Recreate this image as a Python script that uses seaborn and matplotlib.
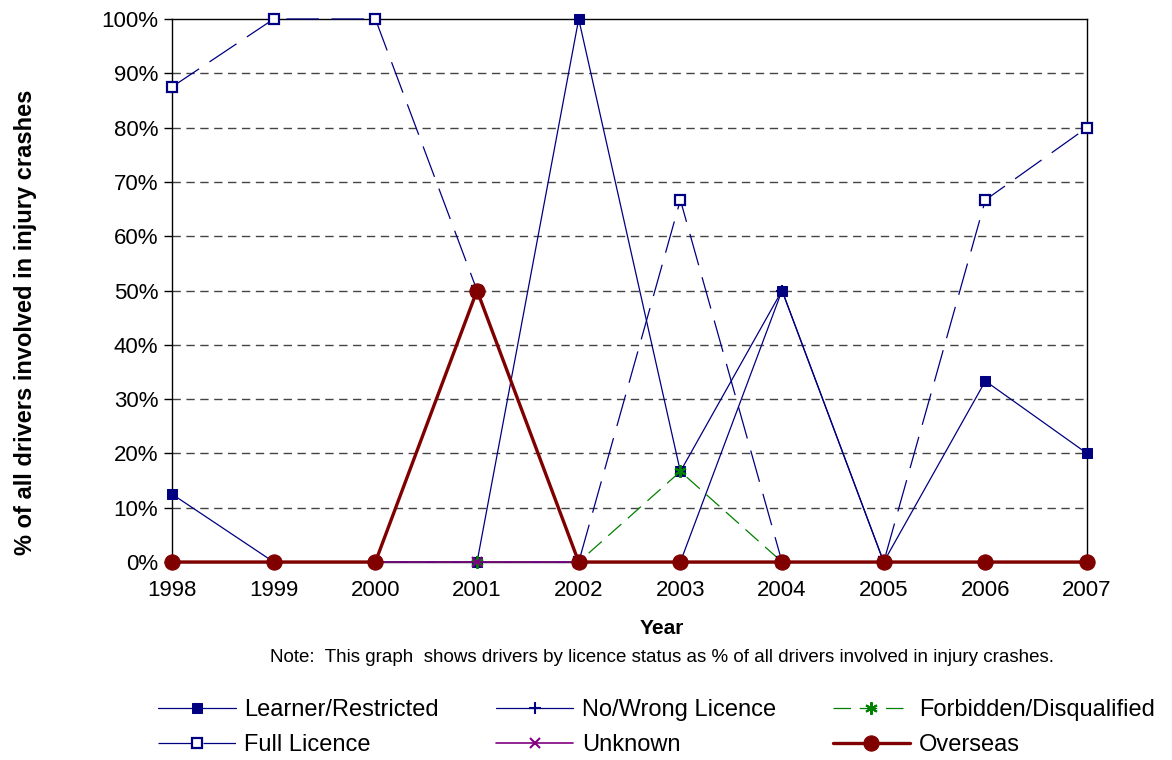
import matplotlib
matplotlib.use("Agg")
import matplotlib.pyplot as plt
import seaborn as sns
from matplotlib.ticker import PercentFormatter

# Data (share of drivers, 0-1)
years = [1998, 1999, 2000, 2001, 2002, 2003, 2004, 2005, 2006, 2007]
learner = [0.125, 0.0, 0.0, 0.0, 1.0, 0.1667, 0.5, 0.0, 0.3333, 0.20]
no_wrong = [0.0, 0.0, 0.0, 0.0, 0.0, 0.0, 0.5, 0.0, 0.0, 0.0]
forbidden = [0.0, 0.0, 0.0, 0.0, 0.0, 0.1667, 0.0, 0.0, 0.0, 0.0]
full_licence = [0.875, 1.0, 1.0, 0.5, 0.0, 0.6667, 0.0, 0.0, 0.6667, 0.80]
unknown = [0.0, 0.0, 0.0, 0.0, 0.0, 0.0, 0.0, 0.0, 0.0, 0.0]
overseas = [0.0, 0.0, 0.0, 0.5, 0.0, 0.0, 0.0, 0.0, 0.0, 0.0]

labels = ["Learner/Restricted", "No/Wrong Licence", "Forbidden/Disqualified",
          "Full Licence", "Unknown", "Overseas"]
series = [learner, no_wrong, forbidden, full_licence, unknown, overseas]

NAVY = "#000080"
styles = [
    dict(color=NAVY, lw=0.9, ls="-", marker="s", ms=6.5, mfc=NAVY, mec=NAVY),
    dict(color=NAVY, lw=0.9, ls="-", marker="+", ms=9, mew=1.5, mec=NAVY),
    dict(color="#008000", lw=0.9, ls=(0, (14, 7)), marker=(6, 2, 0), ms=9, mew=1.5, mec="#008000"),
    dict(color=NAVY, lw=0.9, ls=(0, (26, 10)), marker="s", ms=7, mfc="white", mec=NAVY, mew=1.6),
    dict(color="#800080", lw=1.2, ls="-", marker="x", ms=7, mew=1.5, mec="#800080"),
    dict(color="#800000", lw=2.4, ls="-", marker="o", ms=11, mfc="#800000", mec="#800000"),
]

sns.set_style("white")
plt.rcParams["font.family"] = ["Liberation Sans", "DejaVu Sans"]
plt.rcParams.update({"text.color": "black", "axes.labelcolor": "black",
                     "xtick.color": "black", "ytick.color": "black"})

fig = plt.figure(figsize=(11.72, 7.6), dpi=100)
ax = fig.add_axes([0.1468, 0.2605, 0.7807, 0.7145])

# Dashed horizontal gridlines
for v in [0.1, 0.2, 0.3, 0.4, 0.5, 0.6, 0.7, 0.8, 0.9]:
    ax.axhline(v, color="#444444", lw=1.0, ls=(0, (6, 4)), zorder=0)

for lab, vals, st in zip(labels, series, styles):
    sns.lineplot(x=years, y=vals, ax=ax, label=lab, clip_on=False, zorder=3,
                 linestyle=st.pop("ls"), linewidth=st.pop("lw"),
                 markersize=st.pop("ms"), **st)

ax.set_xlim(1998, 2007)
ax.set_ylim(0, 1)
ax.set_xticks(years)
ax.set_xticklabels([str(y) for y in years])
ax.set_yticks([i / 10 for i in range(11)])
ax.yaxis.set_major_formatter(PercentFormatter(1.0, decimals=0))
ax.tick_params(axis="y", direction="out", length=6, width=1, color="black",
               labelsize=16, pad=4, left=True)
ax.tick_params(axis="x", length=0, labelsize=16, pad=13)
for sp in ax.spines.values():
    sp.set_color("black")
    sp.set_linewidth(1.0)

ax.set_xlabel("Year", fontsize=15, fontweight="bold", labelpad=0)
ax.xaxis.set_label_coords(0.535, -0.105)
ax.set_ylabel("")
fig.text(0.022, 0.576, "% of all drivers involved in injury crashes", rotation=90,
         ha="center", va="center", fontsize=17, fontweight="bold")

fig.text(0.565, 0.135, "Note:  This graph  shows drivers by licence status as % of all drivers involved in injury crashes.",
         ha="center", va="center", fontsize=13.5)

# Legend: column-major fill so rows read across as in the original
h, l = ax.get_legend_handles_labels()
ax.get_legend().remove()
order = [0, 3, 1, 4, 2, 5]
fig.legend([h[i] for i in order], [l[i] for i in order], ncol=3,
           loc="center", bbox_to_anchor=(0.560, 0.043), frameon=False,
           fontsize=17, handlelength=3.3, handletextpad=0.35, columnspacing=2.4,
           labelspacing=0.55)

fig.savefig("out.png", dpi=100)
